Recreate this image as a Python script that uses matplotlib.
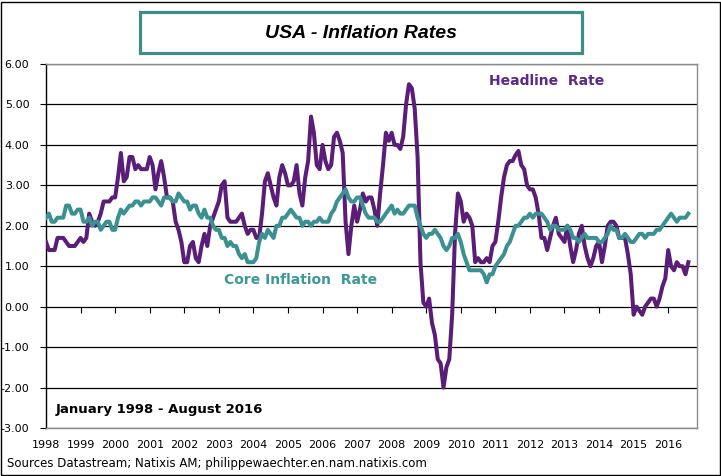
import numpy as np
import matplotlib
matplotlib.use("Agg")
import matplotlib.pyplot as plt
from matplotlib.patches import Rectangle

# ----------------------------
# Data: monthly YoY %, Jan 1998 - Aug 2016
# ----------------------------
years = list(range(1998, 2017))

headline = [
    1.6, 1.4, 1.4, 1.4, 1.7, 1.7, 1.7, 1.6, 1.5, 1.5, 1.5, 1.6,   # 1998
    1.7, 1.6, 1.7, 2.3, 2.1, 2.0, 2.1, 2.3, 2.6, 2.6, 2.6, 2.7,   # 1999
    2.7, 3.2, 3.8, 3.1, 3.2, 3.7, 3.7, 3.4, 3.5, 3.4, 3.4, 3.4,   # 2000
    3.7, 3.5, 2.9, 3.3, 3.6, 3.2, 2.7, 2.7, 2.6, 2.1, 1.9, 1.6,   # 2001
    1.1, 1.1, 1.5, 1.6, 1.2, 1.1, 1.5, 1.8, 1.5, 2.0, 2.2, 2.4,   # 2002
    2.6, 3.0, 3.1, 2.2, 2.1, 2.1, 2.1, 2.2, 2.3, 2.0, 1.8, 1.9,   # 2003
    1.9, 1.7, 1.7, 2.3, 3.1, 3.3, 3.0, 2.7, 2.5, 3.2, 3.5, 3.3,   # 2004
    3.0, 3.0, 3.1, 3.5, 2.8, 2.5, 3.2, 3.6, 4.7, 4.3, 3.5, 3.4,   # 2005
    4.0, 3.6, 3.4, 3.5, 4.2, 4.3, 4.1, 3.8, 2.1, 1.3, 2.0, 2.5,   # 2006
    2.1, 2.4, 2.8, 2.6, 2.7, 2.7, 2.4, 2.0, 2.8, 3.5, 4.3, 4.1,   # 2007
    4.3, 4.0, 4.0, 3.9, 4.2, 5.0, 5.5, 5.4, 4.9, 3.7, 1.1, 0.1,   # 2008
    0.0, 0.2, -0.4, -0.7, -1.3, -1.4, -2.0, -1.5, -1.3, -0.2, 1.8, 2.8,  # 2009
    2.6, 2.1, 2.3, 2.2, 2.0, 1.1, 1.2, 1.1, 1.1, 1.2, 1.1, 1.5,   # 2010
    1.6, 2.1, 2.7, 3.2, 3.5, 3.6, 3.6, 3.75, 3.85, 3.5, 3.4, 3.0,  # 2011
    2.9, 2.9, 2.7, 2.3, 1.7, 1.7, 1.4, 1.7, 2.0, 2.2, 1.8, 1.7,   # 2012
    1.6, 2.0, 1.5, 1.1, 1.4, 1.8, 2.0, 1.5, 1.2, 1.0, 1.2, 1.5,   # 2013
    1.6, 1.1, 1.5, 2.0, 2.1, 2.1, 2.0, 1.7, 1.7, 1.7, 1.3, 0.8,   # 2014
    -0.2, 0.0, -0.1, -0.2, 0.0, 0.1, 0.2, 0.2, 0.0, 0.2, 0.5, 0.7,  # 2015
    1.4, 1.0, 0.9, 1.1, 1.0, 1.0, 0.8, 1.1,                       # 2016
]

core = [
    2.2, 2.3, 2.1, 2.1, 2.2, 2.2, 2.2, 2.5, 2.5, 2.3, 2.3, 2.4,   # 1998
    2.4, 2.1, 2.1, 2.2, 2.0, 2.1, 2.1, 1.9, 2.0, 2.1, 2.1, 1.9,   # 1999
    1.9, 2.2, 2.4, 2.3, 2.4, 2.5, 2.5, 2.6, 2.6, 2.5, 2.6, 2.6,   # 2000
    2.6, 2.7, 2.7, 2.6, 2.5, 2.7, 2.7, 2.7, 2.6, 2.6, 2.8, 2.7,   # 2001
    2.6, 2.6, 2.4, 2.5, 2.5, 2.3, 2.2, 2.4, 2.2, 2.2, 2.0, 1.9,   # 2002
    1.9, 1.7, 1.7, 1.5, 1.6, 1.5, 1.5, 1.3, 1.2, 1.3, 1.1, 1.1,   # 2003
    1.1, 1.2, 1.6, 1.8, 1.7, 1.9, 1.8, 1.7, 2.0, 2.0, 2.2, 2.2,   # 2004
    2.3, 2.4, 2.3, 2.2, 2.2, 2.0, 2.1, 2.1, 2.0, 2.1, 2.1, 2.2,   # 2005
    2.1, 2.1, 2.1, 2.3, 2.4, 2.6, 2.7, 2.8, 2.9, 2.7, 2.6, 2.6,   # 2006
    2.7, 2.7, 2.5, 2.3, 2.2, 2.2, 2.2, 2.1, 2.1, 2.2, 2.3, 2.4,   # 2007
    2.5, 2.3, 2.4, 2.3, 2.3, 2.4, 2.5, 2.5, 2.5, 2.2, 2.0, 1.8,   # 2008
    1.7, 1.8, 1.8, 1.9, 1.8, 1.7, 1.5, 1.4, 1.5, 1.7, 1.7, 1.8,   # 2009
    1.6, 1.3, 1.1, 0.9, 0.9, 0.9, 0.9, 0.9, 0.8, 0.6, 0.8, 0.8,   # 2010
    1.0, 1.1, 1.2, 1.3, 1.5, 1.6, 1.8, 2.0, 2.0, 2.1, 2.2, 2.2,   # 2011
    2.3, 2.2, 2.3, 2.3, 2.3, 2.2, 2.1, 1.9, 2.0, 2.0, 1.9, 1.9,   # 2012
    1.9, 2.0, 1.9, 1.7, 1.7, 1.6, 1.7, 1.8, 1.7, 1.7, 1.7, 1.7,   # 2013
    1.6, 1.6, 1.7, 1.8, 2.0, 1.9, 1.9, 1.7, 1.7, 1.8, 1.7, 1.6,   # 2014
    1.6, 1.7, 1.8, 1.8, 1.7, 1.8, 1.8, 1.8, 1.9, 1.9, 2.0, 2.1,   # 2015
    2.2, 2.3, 2.2, 2.1, 2.2, 2.2, 2.2, 2.3,                       # 2016
]

months = np.arange(len(headline))

# ----------------------------
# Style
# ----------------------------
purple = "#5A1E78"
teal = "#3B9191"
grey = "#8C8C8C"

fig = plt.figure(figsize=(7.21, 4.76), dpi=100)
ax = fig.add_axes([46 / 721, 1 - 428 / 476, (697 - 46) / 721, (428 - 64) / 476])

ax.plot(months, headline, color=purple, linewidth=2.9, solid_joinstyle="round", zorder=3)
ax.plot(months, core, color=teal, linewidth=2.9, solid_joinstyle="round", zorder=4)

ax.set_xlim(0, 226)
ax.set_ylim(-3, 6)

# y axis
ax.set_yticks(range(-3, 7))
ax.set_yticklabels([f"{v:.2f}" for v in range(-3, 7)], fontsize=8)
ax.tick_params(axis="y", direction="out", length=4, width=0.8, color="black", pad=8)
ax.yaxis.grid(True, color="black", linewidth=0.9)
ax.set_axisbelow(True)

# x axis labels at the bottom, tick marks on the zero line
ax.set_xticks([12 * i for i in range(len(years))])
ax.set_xticklabels([str(y) for y in years], fontsize=8)
ax.tick_params(axis="x", length=0, pad=9)

sec = ax.secondary_xaxis(3 / 9)
sec.set_xticks([12 * i for i in range(1, len(years))])
sec.set_xticklabels([])
sec.tick_params(axis="x", direction="out", length=4, width=0.8, color="black")
sec.spines["bottom"].set_visible(False)

for side in ["top", "right", "bottom"]:
    ax.spines[side].set_color(grey)
    ax.spines[side].set_linewidth(1.0)
ax.spines["left"].set_color("black")
ax.spines["left"].set_linewidth(1.0)

# labels inside the plot
fig.text(547 / 721, 1 - 81 / 476, "Headline  Rate", fontsize=10, fontweight="bold",
         color="#5B2A88", ha="center", va="center")
fig.text(301 / 721, 1 - 280 / 476, "Core Inflation  Rate", fontsize=10, fontweight="bold",
         color="#3D9898", ha="center", va="center")
fig.text(56 / 721, 1 - 410 / 476, "January 1998 - August 2016", fontsize=9.5,
         fontweight="bold", color="black", ha="left", va="center")

# title box
fig.patches.append(Rectangle((140 / 721, 1 - 53 / 476), 442 / 721, 41 / 476,
                             transform=fig.transFigure, fill=False,
                             edgecolor="#3E8C8C", linewidth=2.3))
fig.text(361 / 721, 1 - 33 / 476, "USA - Inflation Rates", fontsize=14,
         fontweight="bold", fontstyle="italic", family="Liberation Sans",
         ha="center", va="center")

fig.text(7 / 721, 1 - 463 / 476, "Sources Datastream; Natixis AM; philippewaechter.en.nam.natixis.com",
         fontsize=8.5, ha="left", va="center")

# outer frame
fig.patches.append(Rectangle((0.5 / 721, 1.5 / 476), 719 / 721, 473 / 476,
                             transform=fig.transFigure, fill=False,
                             edgecolor="black", linewidth=1.0))

plt.savefig("out.png", dpi=100)
